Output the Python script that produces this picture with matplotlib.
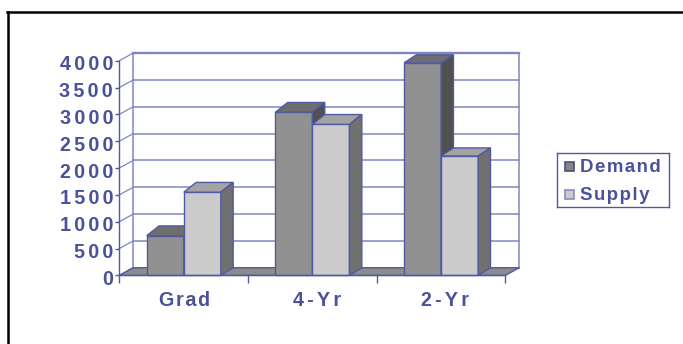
# -*- coding: utf-8 -*-

import matplotlib as mpl
mpl.use('Agg')
import matplotlib.pyplot as plt
from matplotlib.patches import Polygon, Rectangle
from matplotlib.transforms import ScaledTranslation

#------------------ Font setup ----------------------
plt.rcParams['font.family'] = ['Liberation Sans', 'DejaVu Sans']

#------------------ Data ----------------------
categories = ['Grad', '4-Yr', '2-Yr']
demand = [740, 3040, 3960]
supply = [1550, 2815, 2225]
y_ticks = [0, 500, 1000, 1500, 2000, 2500, 3000, 3500, 4000]

#------------------ Style ----------------------
W, H = 683, 344
INK = '#4a5399'
LINE = '#4f5aa3'
GRID = '#7f87c0'
TXT = dict(color=INK, fontweight='bold', fontsize=14.2)
LEG_TXT = dict(color=INK, fontweight='bold', fontsize=13.4)

# depth of the 3D box, in data units
DX = 0.108
DY = 142
BAR_DX = 0.096
BAR_W = 0.288
GROUP_OFF = 0.213
# top faces look a little deeper on the first two groups
TOP_DY = [182, 182, 150]
# category labels sit a little right of their group centre (points)
LABEL_SHIFT = [0.7, 3.6, 2.9]


def spaced(s, n=1):
    # widen letter spacing with hair spaces
    return ('\u200a' * n).join(s)


def box(ax, x0, val, top_dy, front, top, side, z):
    x1 = x0 + BAR_W
    ax.add_patch(Rectangle((x0, 0), BAR_W, val, fc=front, ec=LINE, lw=1.0,
                           zorder=z, clip_on=False))
    ax.add_patch(Polygon([(x0, val), (x1, val), (x1 + BAR_DX, val + top_dy),
                          (x0 + BAR_DX, val + top_dy)],
                         fc=top, ec=LINE, lw=1.0, zorder=z, clip_on=False))
    ax.add_patch(Polygon([(x1, 0), (x1 + BAR_DX, DY), (x1 + BAR_DX, val + top_dy), (x1, val)],
                         fc=side, ec=LINE, lw=1.0, zorder=z, clip_on=False))


#------------------ Figure setup ----------------------
fig = plt.figure(figsize=(W / 100, H / 100), dpi=100, facecolor='white')
ax = fig.add_axes([119.3 / W, 1 - 275.4 / H, 386 / W, 214.7 / H])
ax.set_xlim(0, 3)
ax.set_ylim(0, 4000)
ax.patch.set_visible(False)

# outer frame, open on the right and bottom
fig.add_artist(plt.Line2D([7.5 / W, 7.5 / W], [0, 1 - 12 / H], color='black', lw=1.8))
fig.add_artist(plt.Line2D([7 / W, 1], [1 - 12.3 / H, 1 - 12.3 / H], color='black', lw=1.8))

# back wall grid and the diagonals on the left wall
for v in y_ticks:
    lw = 1.7 if v == y_ticks[-1] else 1.1
    ax.plot([DX, 3 + DX], [v + DY, v + DY], color=GRID, lw=lw, zorder=1, clip_on=False)
    ax.plot([0, DX], [v, v + DY], color=GRID, lw=0.9, zorder=1, clip_on=False)
ax.plot([DX, DX], [DY, 4000 + DY], color=GRID, lw=1.1, zorder=1, clip_on=False)
ax.plot([3 + DX, 3 + DX], [DY, 4000 + DY], color=GRID, lw=1.1, zorder=1, clip_on=False)

# floor
ax.add_patch(Polygon([(0, 0), (3, 0), (3 + DX, DY), (DX, DY)], fc='#8c8c8c', ec=LINE,
                     lw=1.0, zorder=2, clip_on=False))

# bars, drawn left to right so the nearer sides overlap correctly
for i in range(len(categories)):
    box(ax, i + GROUP_OFF, demand[i], TOP_DY[i], '#919191', '#6e6e6e', '#505050', 3 + i * 2)
    box(ax, i + GROUP_OFF + BAR_W, supply[i], TOP_DY[i], '#cbcbcb', '#a3a3a3', '#707070', 4 + i * 2)

#Tick setup
ax.spines['top'].set_visible(False)
ax.spines['right'].set_visible(False)
for s in ['left', 'bottom']:
    ax.spines[s].set_color(LINE)
    ax.spines[s].set_linewidth(1.0)
    ax.spines[s].set_zorder(12)
ax.set_yticks(y_ticks)
ax.set_yticklabels([spaced(str(v), 2) for v in y_ticks], **TXT)
ax.tick_params(axis='y', length=3, width=1.0, color=LINE, pad=1.5)
shift = ScaledTranslation(0, -1.5 / 72, fig.dpi_scale_trans)
for t in ax.get_yticklabels():
    t.set_transform(t.get_transform() + shift)
ax.set_xticks([0, 1, 2, 3])
ax.set_xticklabels([])
ax.tick_params(axis='x', length=6, width=1.0, color=LINE)
ax.set_xticks([0.5, 1.5, 2.5], [spaced(c, 2 if '-' in c else 1) for c in categories],
              minor=True, **TXT)
ax.tick_params(axis='x', which='minor', length=0, pad=11.5)
for t, dx in zip(ax.get_xticklabels(minor=True), LABEL_SHIFT):
    t.set_transform(t.get_transform() + ScaledTranslation(dx / 72, 0, fig.dpi_scale_trans))

#Legend
leg = fig.add_axes([557.3 / W, 1 - 206.8 / H, 112 / W, 53.5 / H])
leg.set_xlim(557.3, 669.3)
leg.set_ylim(206.8, 153.3)
leg.set_xticks([])
leg.set_yticks([])
for s in leg.spines.values():
    s.set_color(LINE)
    s.set_linewidth(1.0)
for name, fc, ec, yc in [('Demand', '#858585', '#46507f', 166.5),
                         ('Supply', '#cbcbcb', '#858cc0', 194.7)]:
    leg.add_patch(Rectangle((565, yc - 4.3), 9, 8.6, fc=fc, ec=ec, lw=1.2))
    leg.text(580.5, yc + 1, spaced(name), va='center', ha='left', **LEG_TXT)

fig.savefig('out.png', dpi=100)
